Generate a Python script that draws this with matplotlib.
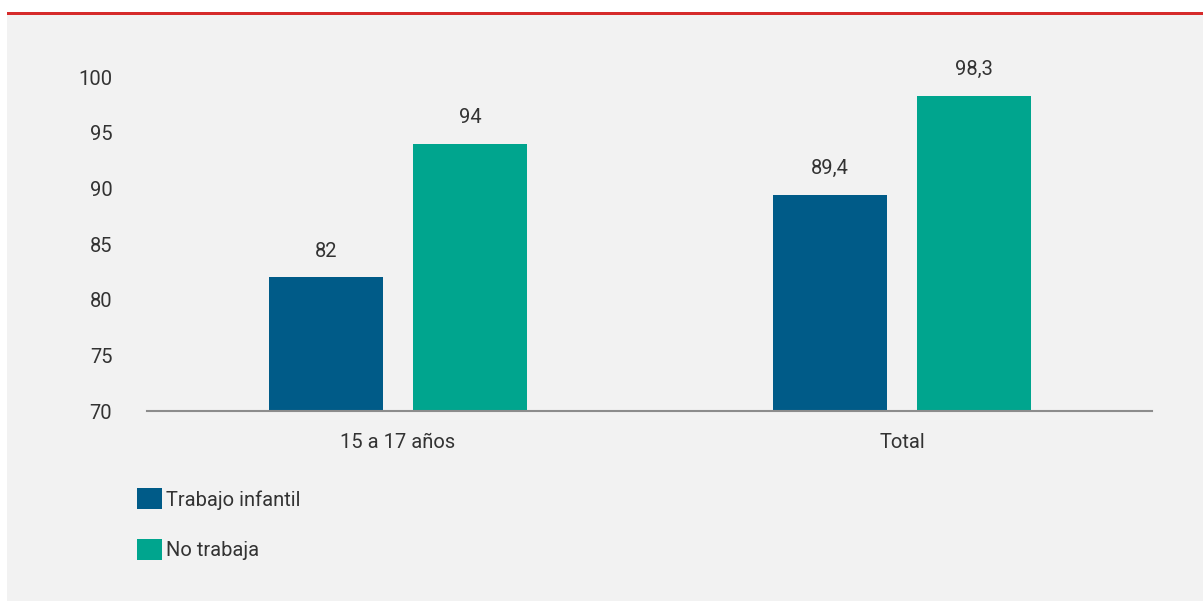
import matplotlib.pyplot as plt
from matplotlib.patches import Rectangle, Patch

categorias = ['15 a 17 años', 'Total']
trabajo_infantil = [82, 89.4]
no_trabaja = [94, 98.3]
series = ['Trabajo infantil', 'No trabaja']
colores = ['#005b88', '#00a58e']
yticks = [70, 75, 80, 85, 90, 95, 100]

plt.rcParams['font.family'] = ['Roboto', 'DejaVu Sans']

W, H = 1203, 601
fig = plt.figure(figsize=(W / 100, H / 100), dpi=100)
fig.patch.set_facecolor('white')

# fondo gris y linea roja arriba
fig.patches.append(Rectangle((7 / W, 0), 1 - 7 / W, 1 - 13 / H, transform=fig.transFigure,
                             facecolor='#f2f2f2', edgecolor='none', zorder=-2))
fig.patches.append(Rectangle((7 / W, 1 - 15 / H), 1 - 7 / W, 3 / H, transform=fig.transFigure,
                             facecolor='#d62b2b', edgecolor='none', zorder=-1))

ax = fig.add_axes([147 / W, 1 - 411 / H, (1152 - 147) / W, (411 - 77) / H])
ax.set_facecolor('none')
ax.set_zorder(2)

x = range(len(categorias))
ancho = 0.226
desp = 0.143
b1 = ax.bar([i - desp for i in x], trabajo_infantil, ancho, color=colores[0])
b2 = ax.bar([i + desp for i in x], no_trabaja, ancho, color=colores[1])

for barras, vals in [(b1, trabajo_infantil), (b2, no_trabaja)]:
    for b, v in zip(barras, vals):
        ax.text(b.get_x() + b.get_width() / 2, v + 1.5, f'{v:g}'.replace('.', ','),
                ha='center', va='bottom', fontsize=14.5, color='#333333', clip_on=False)

ax.set_ylim(70, 100)
ax.set_xlim(-0.498, 1.496)
ax.set_yticks(yticks)
ax.set_xticks(list(x))
ax.set_xticklabels(categorias)
ax.tick_params(axis='both', length=0, labelsize=14.5, labelcolor='#333333')
ax.tick_params(axis='y', pad=25)
ax.tick_params(axis='x', pad=16)
for s in ['top', 'right', 'left']:
    ax.spines[s].set_visible(False)
ax.spines['bottom'].set_color('#8c8c8c')
ax.spines['bottom'].set_linewidth(1.5)

handles = [Patch(facecolor=c, edgecolor='none') for c in colores]
fig.legend(handles, series, loc='upper left', bbox_to_anchor=(119 / W, 1 - 470 / H),
           frameon=False, fontsize=14.5, labelcolor='#333333', handlelength=1.25,
           handleheight=1.25, handletextpad=0.2, labelspacing=1.45)

fig.savefig('out.png', dpi=100, facecolor=fig.get_facecolor())
